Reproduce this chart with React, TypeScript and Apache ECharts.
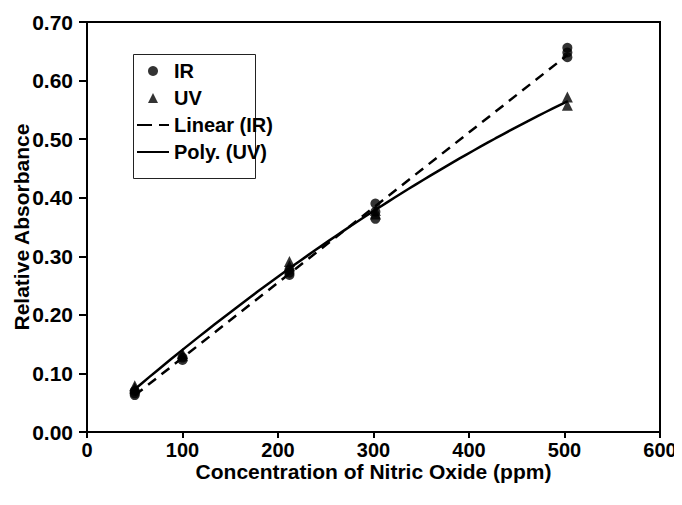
import React, { useEffect, useRef } from "react";
import * as echarts from "echarts";

// IR measurements (ppm, relative absorbance)
const irX = [50, 50, 50, 100, 100, 212, 212, 212, 302, 302, 302, 503, 503, 503];
const irY = [0.063, 0.066, 0.07, 0.123, 0.127, 0.268, 0.272, 0.277, 0.364, 0.376, 0.39, 0.64, 0.648, 0.656];

// UV measurements
const uvX = [50, 50, 100, 100, 212, 212, 302, 302, 503, 503];
const uvY = [0.075, 0.079, 0.13, 0.134, 0.284, 0.291, 0.372, 0.378, 0.558, 0.572];

const xTicks = [0, 100, 200, 300, 400, 500, 600];
const yTicks = [0, 0.1, 0.2, 0.3, 0.4, 0.5, 0.6, 0.7];

const legendNames = ["IR", "UV", "Linear (IR)", "Poly. (UV)"];

function linearFit(xs: number[], ys: number[]) {
  const n = xs.length;
  const mx = xs.reduce((a, b) => a + b, 0) / n;
  const my = ys.reduce((a, b) => a + b, 0) / n;
  let sxy = 0, sxx = 0;
  for (let i = 0; i < n; i++) {
    sxy += (xs[i] - mx) * (ys[i] - my);
    sxx += (xs[i] - mx) * (xs[i] - mx);
  }
  const b = sxy / sxx;
  return { a: my - b * mx, b };
}

function quadFit(xs: number[], ys: number[]) {
  // least squares for y = c0 + c1 x + c2 x^2
  const s = [0, 0, 0, 0, 0];
  const t = [0, 0, 0];
  for (let i = 0; i < xs.length; i++) {
    let p = 1;
    for (let k = 0; k < 5; k++) {
      s[k] += p;
      if (k < 3) t[k] += p * ys[i];
      p *= xs[i];
    }
  }
  const M = [
    [s[0], s[1], s[2], t[0]],
    [s[1], s[2], s[3], t[1]],
    [s[2], s[3], s[4], t[2]],
  ];
  for (let c = 0; c < 3; c++) {
    for (let r = c + 1; r < 3; r++) {
      const f = M[r][c] / M[c][c];
      for (let k = c; k < 4; k++) M[r][k] -= f * M[c][k];
    }
  }
  const x = [0, 0, 0];
  for (let r = 2; r >= 0; r--) {
    let v = M[r][3];
    for (let k = r + 1; k < 3; k++) v -= M[r][k] * x[k];
    x[r] = v / M[r][r];
  }
  return x;
}

const FONT = "'Liberation Sans', Arial, sans-serif";

export default function App() {
  const ref = useRef<HTMLDivElement>(null);
  useEffect(() => {
    if (!ref.current) return;
    const chart = echarts.init(ref.current, undefined, { renderer: "svg" });

    const lin = linearFit(irX, irY);
    const xmin = Math.min(...irX);
    const xmax = Math.max(...irX);
    const linData = [
      [xmin, lin.a + lin.b * xmin],
      [xmax, lin.a + lin.b * xmax],
    ];
    const q = quadFit(uvX, uvY);
    const polyData: number[][] = [];
    const uxmin = Math.min(...uvX);
    const uxmax = Math.max(...uvX);
    const steps = 60;
    for (let i = 0; i <= steps; i++) {
      const x = uxmin + ((uxmax - uxmin) * i) / steps;
      polyData.push([x, q[0] + q[1] * x + q[2] * x * x]);
    }

    chart.setOption({
      animation: false,
      backgroundColor: "#ffffff",
      textStyle: { fontFamily: FONT },
      grid: {
        left: 87,
        right: 22,
        top: 22,
        bottom: 73,
        outerBoundsMode: "none",
        containLabel: false,
        show: true,
        borderColor: "#000",
        borderWidth: 2,
        backgroundColor: "transparent",
      },
      graphic: [
        {
          type: "rect",
          shape: { x: 133.5, y: 54.5, width: 122, height: 124 },
          style: { fill: "#fff", stroke: "#222", lineWidth: 1 },
          z: 5,
        },
      ],
      legend: {
        orient: "vertical",
        left: 136,
        top: 61,
        padding: 0,
        itemWidth: 32,
        itemHeight: 10,
        itemGap: 7,
        z: 10,
        data: [
          { name: legendNames[0] },
          { name: legendNames[1], icon: "path://M5,0L10,10L0,10Z" },
          {
            name: legendNames[2],
            itemStyle: { opacity: 0 },
            lineStyle: { type: [15, 7], width: 2 },
          },
          {
            name: legendNames[3],
            itemStyle: { opacity: 0 },
            lineStyle: { width: 2 },
          },
        ],
        textStyle: {
          fontFamily: FONT,
          fontSize: 20,
          fontWeight: "bold",
          color: "#000",
          padding: [0, 0, 0, 0],
        },
      },
      xAxis: {
        type: "value",
        min: xTicks[0],
        max: xTicks[xTicks.length - 1],
        interval: 100,
        name: "Concentration of Nitric Oxide (ppm)",
        nameLocation: "middle",
        nameGap: 29,
        nameMoveOverlap: false,
        nameTextStyle: { fontFamily: FONT, fontSize: 21, fontWeight: "bold", color: "#000" },
        axisLine: { show: true, lineStyle: { color: "#000", width: 2 } },
        axisTick: { show: true, inside: false, length: 6, lineStyle: { color: "#000", width: 2 } },
        axisLabel: { fontFamily: FONT, fontSize: 20, fontWeight: "bold", color: "#000", margin: 8 },
        splitLine: { show: false },
      },
      yAxis: {
        type: "value",
        min: yTicks[0],
        max: yTicks[yTicks.length - 1],
        interval: 0.1,
        name: "Relative Absorbance",
        nameLocation: "middle",
        nameRotate: 90,
        nameGap: 55,
        nameMoveOverlap: false,
        nameTextStyle: { fontFamily: FONT, fontSize: 21, fontWeight: "bold", color: "#000" },
        axisLine: { show: true, lineStyle: { color: "#000", width: 2 } },
        axisTick: { show: true, inside: false, length: 8, lineStyle: { color: "#000", width: 2 } },
        axisLabel: {
          fontFamily: FONT,
          fontSize: 21,
          fontWeight: "bold",
          color: "#000",
          margin: 14,
          formatter: (v: number) => v.toFixed(2),
        },
        splitLine: { show: false },
      },
      series: [
        {
          name: "IR",
          type: "scatter",
          symbol: "circle",
          symbolSize: 10,
          itemStyle: { color: "#000" },
          data: irX.map((x, i) => [x, irY[i]]),
          z: 4,
        },
        {
          name: "UV",
          type: "scatter",
          symbol: "triangle",
          symbolSize: 11,
          itemStyle: { color: "#000" },
          data: uvX.map((x, i) => [x, uvY[i]]),
          z: 4,
        },
        {
          name: "Linear (IR)",
          type: "line",
          symbol: "none",
          showSymbol: false,
          lineStyle: { color: "#000", width: 2.5, type: [10, 7] },
          itemStyle: { color: "#000" },
          data: linData,
          z: 3,
        },
        {
          name: "Poly. (UV)",
          type: "line",
          symbol: "none",
          showSymbol: false,
          lineStyle: { color: "#000", width: 2.5, type: "solid" },
          itemStyle: { color: "#000" },
          data: polyData,
          z: 3,
        },
      ],
    });
    return () => chart.dispose();
  }, []);
  return <div ref={ref} style={{ width: 682, height: 505, margin: -8 }} />;
}
